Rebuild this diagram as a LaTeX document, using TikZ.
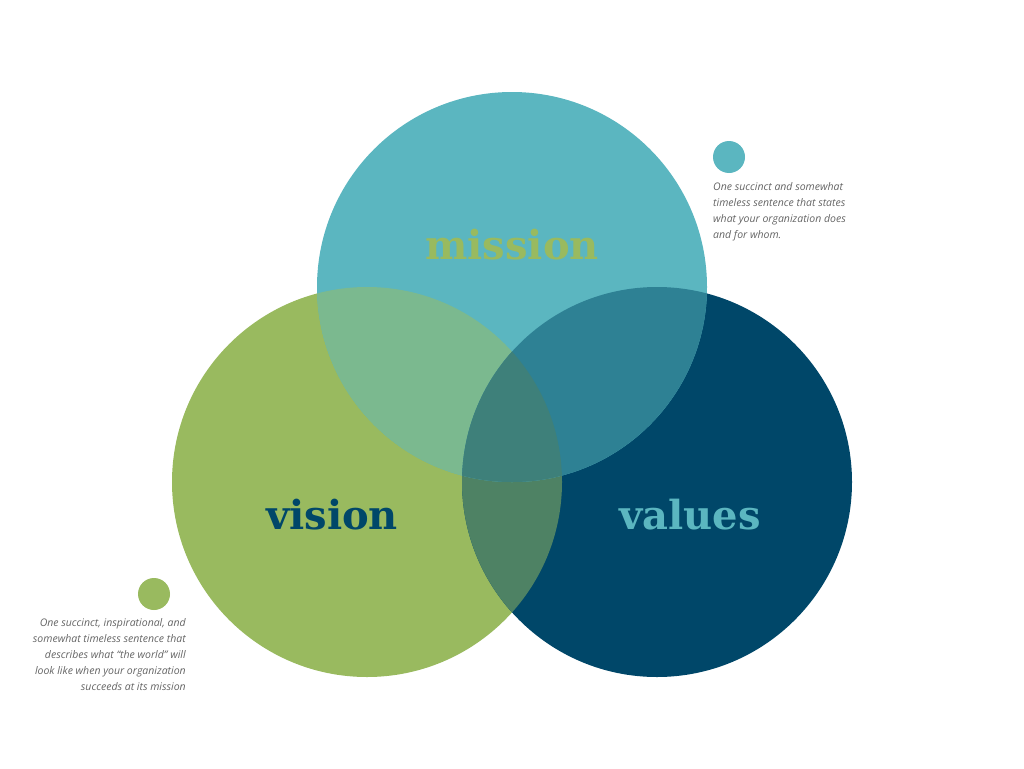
\documentclass[tikz,border=0pt]{standalone}
\usepackage{fontspec}
\setmainfont{Open Sans}
\newfontfamily\headfont{DejaVu Serif}
\definecolor{missionc}{RGB}{91,182,192}
\definecolor{visionc}{RGB}{153,186,95}
\definecolor{valuesc}{RGB}{0,71,105}
\definecolor{mvic}{RGB}{123,185,143}
\definecolor{mvac}{RGB}{46,129,148}
\definecolor{vvc}{RGB}{78,130,100}
\definecolor{allc}{RGB}{62,128,122}
\definecolor{notec}{RGB}{100,100,100}
\tikzset{
  headword/.style={font=\headfont\bfseries\fontsize{40}{40}\selectfont},
  note/.style={font=\itshape\fontsize{10.5}{16}\selectfont, text=notec, inner sep=0pt}
}
\begin{document}
\begin{tikzpicture}[x=1pt,y=-1pt]
  \useasboundingbox (0,0) rectangle (1024,768);
  \def\vis{(367,482) circle (195)}
  \def\val{(657,482) circle (195)}
  \def\mis{(512,287) circle (195)}
  \fill[visionc] \vis;
  \fill[valuesc] \val;
  \begin{scope}\clip \vis; \fill[vvc] \val; \end{scope}
  \fill[missionc] \mis;
  \begin{scope}\clip \mis; \fill[mvic] \vis; \fill[mvac] \val; \end{scope}
  \begin{scope}\clip \mis; \clip \vis; \fill[allc] \val; \end{scope}
  % labels
  \node[headword, text=visionc] (mission) at (512,245) {mission};
  \node[headword, text=valuesc] (vision) at (332,515) {vision};
  \node[headword, text=missionc] (values) at (690,515) {values};
  % notes
  \fill[missionc] (729,157) circle (16);
  \fill[visionc] (154,594) circle (16);
  \node[note, align=left, anchor=north west] (missionnote) at (713,182)
    {One succinct and somewhat\\timeless sentence that states\\what your organization does\\and for whom.};
  \node[note, align=right, anchor=north east] (visionnote) at (186,618)
    {One succinct, inspirational, and\\somewhat timeless sentence that\\describes what “the world” will\\look like when your organization\\succeeds at its mission};
\end{tikzpicture}
\end{document}
